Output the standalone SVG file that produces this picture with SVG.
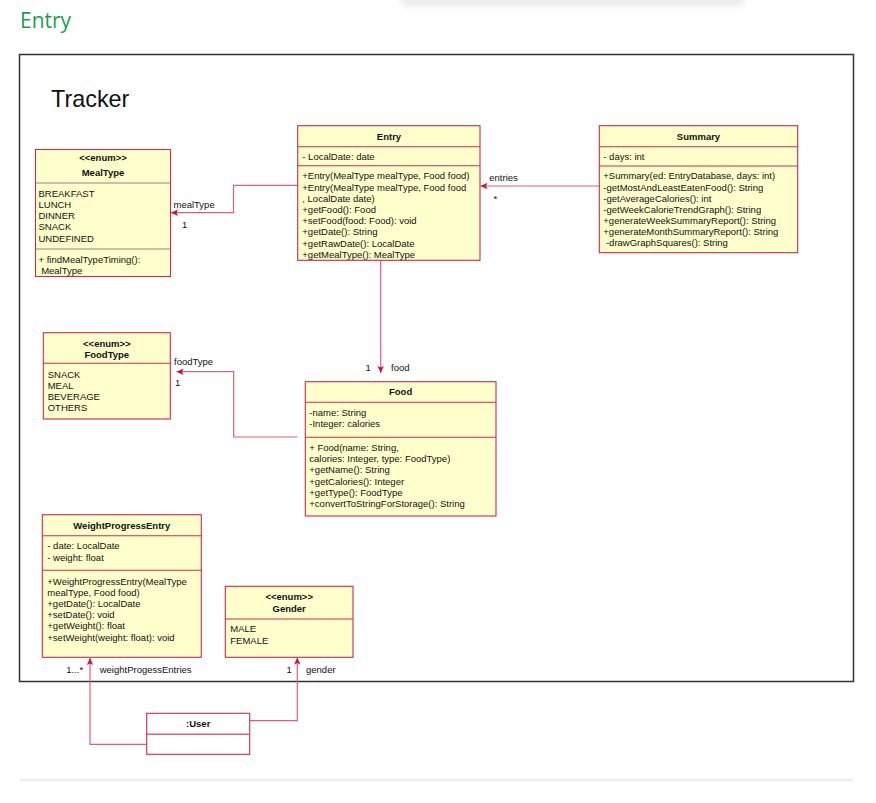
<svg xmlns="http://www.w3.org/2000/svg" width="876" height="803" viewBox="0 0 876 803">
<style>
text{font-family:"Liberation Sans",Arial,sans-serif;font-size:9.5px;fill:#111}
.b{font-weight:bold}
.c{text-anchor:middle}
.box{fill:#ffffcc;stroke:#cc2b52;stroke-width:1.1}
.div{stroke:#cc2b52;stroke-width:1.1;fill:none}
.gdiv{stroke:#c4c3b0;stroke-width:2;fill:none}
.con{fill:none;stroke:#d9607e;stroke-width:1.2}
</style>
<defs>
<marker id="ah" markerUnits="userSpaceOnUse" markerWidth="8" markerHeight="8" viewBox="0 0 8 8" refX="7" refY="4" orient="auto">
<path d="M0,0.8 L7,4 L0,7.2 L1.5,4 Z" fill="#c8143c"/>
</marker>
<filter id="bl" x="-10%" y="-200%" width="120%" height="500%"><feGaussianBlur stdDeviation="3"/></filter>
</defs>
<rect width="876" height="803" fill="#ffffff"/>
<rect x="400" y="-6" width="345" height="12" rx="6" fill="#000" opacity="0.08" filter="url(#bl)"/>
<text x="20" y="28" style="font-family:'Open Sans','Noto Sans',sans-serif;font-size:21px;fill:#1f9d55">Entry</text>
<rect x="19.5" y="54.5" width="834" height="627" fill="none" stroke="#333" stroke-width="1.5"/>
<text x="51" y="106.5" style="font-size:23.4px">Tracker</text>
<rect x="20" y="778.5" width="833" height="3" fill="#eeeeee"/>

<g id="connectors">
<polyline class="con" points="297.7,185.3 233.5,185.3 233.5,212.7 171,212.7" marker-end="url(#ah)"/>
<line class="con" x1="599.3" y1="186" x2="480.5" y2="186" marker-end="url(#ah)"/>
<line class="con" x1="380.7" y1="260.5" x2="380.7" y2="373" marker-end="url(#ah)"/>
<polyline class="con" points="297.5,437 233.7,437 233.7,371.7 176.5,371.7" marker-end="url(#ah)"/>
<polyline class="con" points="146.7,744.3 90,744.3 90,658" marker-end="url(#ah)"/>
<polyline class="con" points="249.7,720.7 297.3,720.7 297.3,657.5" marker-end="url(#ah)"/>
<text x="173.5" y="208.4">mealType</text>
<text x="182" y="228.4">1</text>
<text x="489.3" y="181">entries</text>
<text x="493.5" y="201.5">*</text>
<text x="365.5" y="371.4">1</text>
<text x="391" y="371.4">food</text>
<text x="174" y="365.4">foodType</text>
<text x="175" y="385.7">1</text>
<text x="66.3" y="673">1...*</text>
<text x="99.7" y="673">weightProgessEntries</text>
<text x="286.5" y="673">1</text>
<text x="306" y="673">gender</text>
</g>

<g id="MealType">
<rect class="box" x="35.5" y="149.5" width="135" height="127"/>
<text class="b c" x="103" y="161">&lt;&lt;enum&gt;&gt;</text>
<text class="b c" x="103" y="175.5">MealType</text>
<line class="gdiv" x1="36" y1="183" x2="170" y2="183"/>
<text x="38.5" y="196.7">BREAKFAST</text>
<text x="38.5" y="207.9">LUNCH</text>
<text x="38.5" y="219.1">DINNER</text>
<text x="38.5" y="230.3">SNACK</text>
<text x="38.5" y="241.5">UNDEFINED</text>
<line class="gdiv" x1="36" y1="249" x2="170" y2="249"/>
<text x="38.5" y="262.6">+ findMealTypeTiming():</text>
<text x="38.5" y="273.6" xml:space="preserve"> MealType</text>
</g>

<g id="Entry">
<rect class="box" x="297.7" y="125.7" width="182.3" height="134.6"/>
<text class="b c" x="389" y="139.5">Entry</text>
<line class="div" x1="297.7" y1="146.7" x2="480" y2="146.7"/>
<text x="302.3" y="160.4">- LocalDate: date</text>
<line class="div" x1="297.7" y1="165.7" x2="480" y2="165.7"/>
<text x="302.3" y="179.4">+Entry(MealType mealType, Food food)</text>
<text x="302.3" y="190.6">+Entry(MealType mealType, Food food</text>
<text x="302.3" y="201.8">, LocalDate date)</text>
<text x="302.3" y="213">+getFood(): Food</text>
<text x="302.3" y="224.2">+setFood(food: Food): void</text>
<text x="302.3" y="235.4">+getDate(): String</text>
<text x="302.3" y="246.6">+getRawDate(): LocalDate</text>
<text x="302.3" y="257.8">+getMealType(): MealType</text>
</g>

<g id="Summary">
<rect class="box" x="599.3" y="125.7" width="198.4" height="127"/>
<text class="b c" x="698.5" y="139.5">Summary</text>
<line class="div" x1="599.3" y1="146.7" x2="797.7" y2="146.7"/>
<text x="603.3" y="160.2">- days: int</text>
<line class="div" x1="599.3" y1="166" x2="797.7" y2="166"/>
<text x="603.3" y="179.4">+Summary(ed: EntryDatabase, days: int)</text>
<text x="603.3" y="190.6">-getMostAndLeastEatenFood(): String</text>
<text x="603.3" y="201.8">-getAverageCalories(): int</text>
<text x="603.3" y="213">-getWeekCalorieTrendGraph(): String</text>
<text x="603.3" y="224.2">+generateWeekSummaryReport(): String</text>
<text x="603.3" y="235.4">+generateMonthSummaryReport(): String</text>
<text x="603.3" y="246.3" xml:space="preserve"> -drawGraphSquares(): String</text>
</g>

<g id="FoodType">
<rect class="box" x="43.3" y="332.7" width="127" height="86.3"/>
<text class="b c" x="106.8" y="347">&lt;&lt;enum&gt;&gt;</text>
<text class="b c" x="106.8" y="357.6">FoodType</text>
<line class="div" x1="43.3" y1="363.3" x2="170.3" y2="363.3"/>
<text x="47.7" y="377.7">SNACK</text>
<text x="47.7" y="388.9">MEAL</text>
<text x="47.7" y="400.1">BEVERAGE</text>
<text x="47.7" y="411.3">OTHERS</text>
</g>

<g id="Food">
<rect class="box" x="305.3" y="381.7" width="190.7" height="134.3"/>
<text class="b c" x="400.6" y="395.2">Food</text>
<line class="div" x1="305.3" y1="402.3" x2="496" y2="402.3"/>
<text x="309.3" y="416">-name: String</text>
<text x="309.3" y="427.2">-Integer: calories</text>
<line class="div" x1="305.3" y1="437.3" x2="496" y2="437.3"/>
<text x="309.3" y="451">+ Food(name: String,</text>
<text x="309.3" y="462.2">calories: Integer, type: FoodType)</text>
<text x="309.3" y="473.4">+getName(): String</text>
<text x="309.3" y="484.6">+getCalories(): Integer</text>
<text x="309.3" y="495.8">+getType(): FoodType</text>
<text x="309.3" y="507">+convertToStringForStorage(): String</text>
</g>

<g id="WeightProgressEntry">
<rect class="box" x="42.3" y="514.7" width="159" height="142.6"/>
<text class="b c" x="121.8" y="529">WeightProgressEntry</text>
<line class="div" x1="42.3" y1="535.7" x2="201.3" y2="535.7"/>
<text x="47.3" y="549.4">- date: LocalDate</text>
<text x="47.3" y="560.6">- weight: float</text>
<line class="div" x1="42.3" y1="570.3" x2="201.3" y2="570.3"/>
<text x="47.3" y="584.6">+WeightProgressEntry(MealType</text>
<text x="47.3" y="595.8">mealType, Food food)</text>
<text x="47.3" y="607">+getDate(): LocalDate</text>
<text x="47.3" y="618.2">+setDate(): void</text>
<text x="47.3" y="629.4">+getWeight(): float</text>
<text x="47.3" y="640.6">+setWeight(weight: float): void</text>
</g>

<g id="Gender">
<rect class="box" x="225.3" y="586.3" width="127.7" height="71"/>
<text class="b c" x="289.2" y="600.4">&lt;&lt;enum&gt;&gt;</text>
<text class="b c" x="289.2" y="611.5">Gender</text>
<line class="div" x1="225.3" y1="619" x2="353" y2="619"/>
<text x="230.3" y="632.4">MALE</text>
<text x="230.3" y="643.6">FEMALE</text>
</g>

<g id="User">
<rect x="146.7" y="713.3" width="103" height="41" fill="#ffffff" stroke="#cc2b52" stroke-width="1.1"/>
<line x1="146.7" y1="734.3" x2="249.7" y2="734.3" stroke="#d9607e" stroke-width="1.6"/>
<text class="b c" x="198.2" y="727">:User</text>
</g>
</svg>
